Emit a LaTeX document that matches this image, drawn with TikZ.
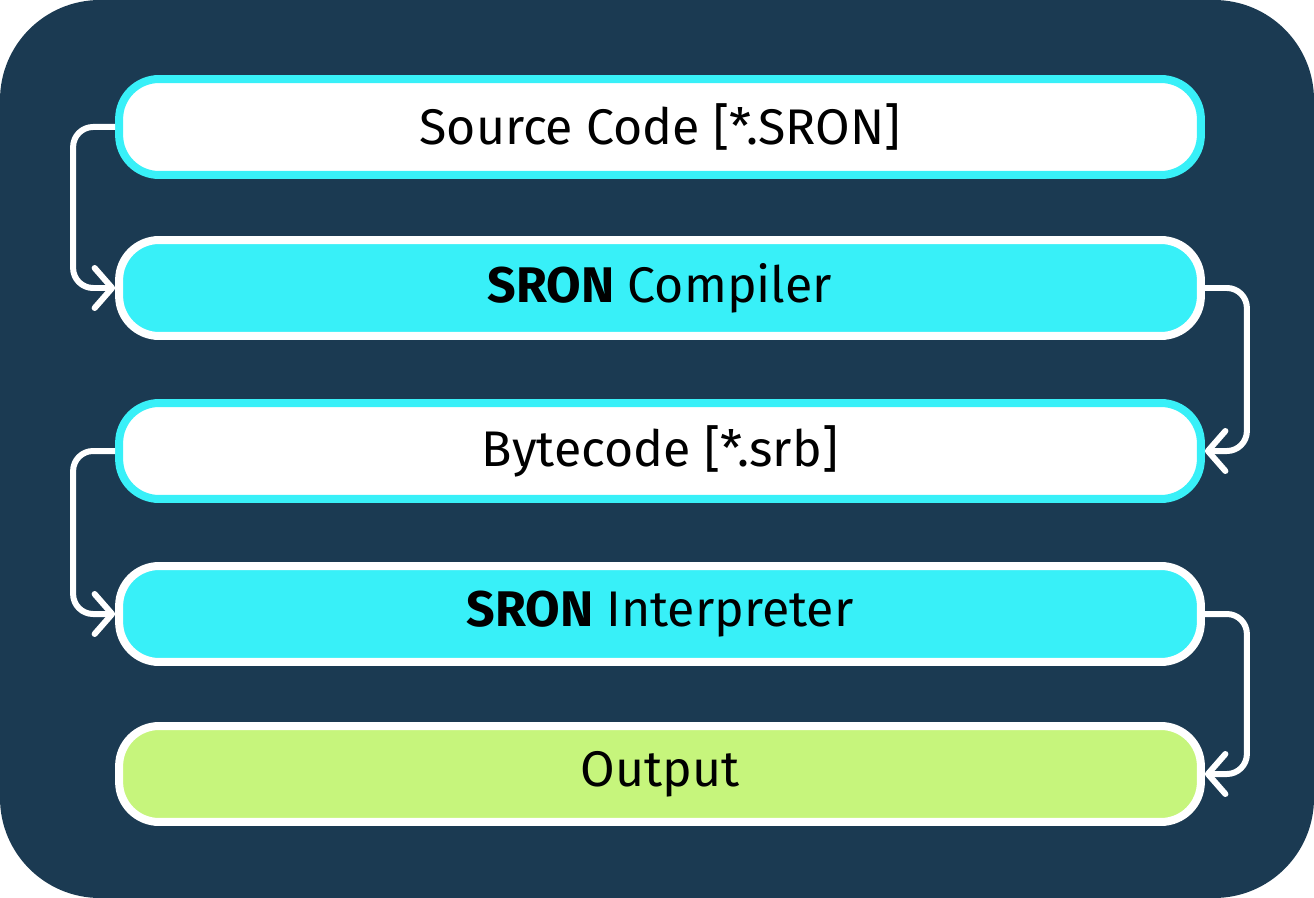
\documentclass[tikz,border=0pt]{standalone}
\usepackage{fontspec}
\setmainfont{Fira Sans}
\usetikzlibrary{math,arrows.meta}

\definecolor{navy}{HTML}{1B3A52}
\definecolor{aqua}{HTML}{38F0F8}
\definecolor{lime}{HTML}{C6F57C}

\begin{document}
\begin{tikzpicture}[x=0.02cm, y=-0.02cm,
  box/.style={rounded corners=0.8cm, line width=0.16cm, minimum width=21.64cm,
    minimum height=1.92cm, font=\fontsize{28.5}{34}\selectfont, text=black},
  filebox/.style={box, fill=white, draw=aqua},
  toolbox/.style={box, fill=aqua, draw=white},
  flow/.style={draw=white, line width=0.12cm, rounded corners=0.4cm,
    -{Straight Barb[round, length=0.35cm, width=0.8cm]}}]
  \tikzmath{\xc = 660;}
  \tikzmath{\gap = 42;}

  % background
  \fill[navy, rounded corners=2cm] (0, 0) rectangle (1314, 898);

  % stages
  \node[filebox] (src) at (\xc, 127) {Source Code [*.SRON]};
  \node[toolbox] (comp) at (\xc, 288) {\textbf{SRON} Compiler};
  \node[filebox] (byte) at (\xc, 451) {Bytecode [*.srb]};
  \node[toolbox] (interp) at (\xc, 614) {\textbf{SRON} Interpreter};
  \node[box, fill=lime, draw=white] (out) at (\xc, 774) {Output};

  % left and right loops
  \draw[flow] (src.west) -- ++(-\gap, 0) |- (comp.west);
  \draw[flow] (comp.east) -- ++(\gap, 0) |- (byte.east);
  \draw[flow] (byte.west) -- ++(-\gap, 0) |- (interp.west);
  \draw[flow] (interp.east) -- ++(\gap, 0) |- (out.east);
\end{tikzpicture}
\end{document}
